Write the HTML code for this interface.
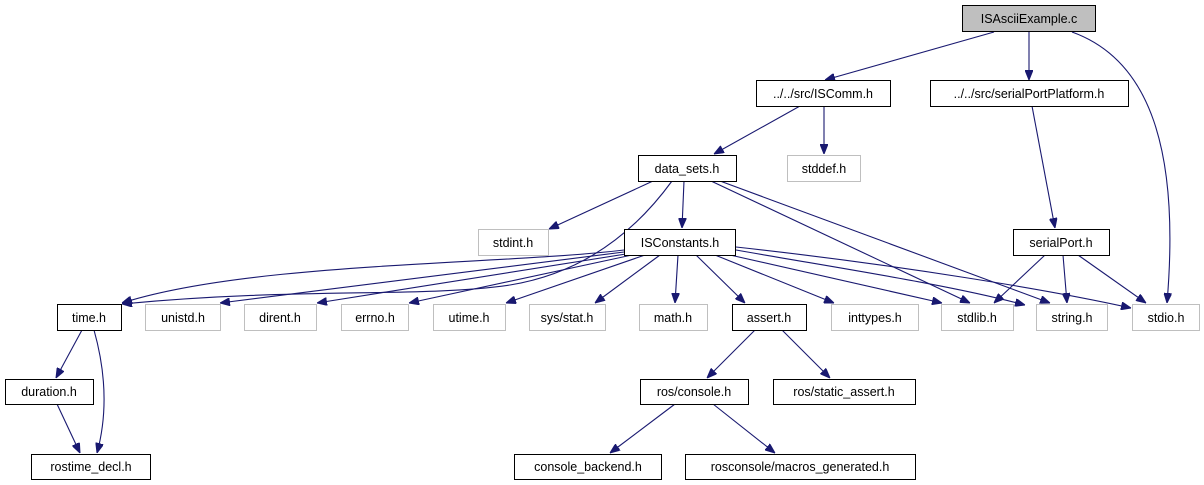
<!DOCTYPE html>
<html><head><meta charset="utf-8"><style>
html,body{margin:0;padding:0;background:#fff;}
svg{display:block;}
text{font-family:"Liberation Sans",sans-serif;font-size:12.5px;fill:#000;}
</style></head><body>
<svg width="1204" height="485" viewBox="0 0 1204 485" xmlns="http://www.w3.org/2000/svg">
<defs>
<marker id="a" markerWidth="10" markerHeight="8" refX="10" refY="4" orient="auto" markerUnits="userSpaceOnUse">
<path d="M0,0 L10,4 L0,8 Z" fill="#191970" stroke="#191970"/>
</marker>
</defs>
<g fill="none" stroke="#191970" stroke-width="1.1" marker-end="url(#a)">
<path d="M994,32 L825,80"/>
<path d="M1029,32 L1029,80"/>
<path d="M1072,32 C1150,60 1180,150 1167,303"/>
<path d="M800,106 L714,154"/>
<path d="M824,106 L824,154"/>
<path d="M1032,106 L1055,228"/>
<path d="M653,181 L549,229"/>
<path d="M672,181 C640,225 590,272 510,285 C420,298 300,287 122,304"/>
<path d="M684,181 L682,228"/>
<path d="M711,181 L970,303"/>
<path d="M720,181 L1050,303"/>
<path d="M624,250 C500,265 250,262 122,303"/>
<path d="M624,252 L220,303"/>
<path d="M626,254 L317,303"/>
<path d="M632,255 L409,303"/>
<path d="M645,255 L506,303"/>
<path d="M660,255 L595,303"/>
<path d="M678,255 L675,303"/>
<path d="M696,255 L745,303"/>
<path d="M715,255 L834,303"/>
<path d="M730,255 L942,303"/>
<path d="M736,250 C850,270 950,285 1025,305"/>
<path d="M736,247 C900,265 1050,290 1131,308"/>
<path d="M1045,255 L994,303"/>
<path d="M1063,255 L1067,303"/>
<path d="M1078,255 L1146,303"/>
<path d="M82,330 L56,378"/>
<path d="M94,330 C108,380 106,420 97,453"/>
<path d="M57,404 L80,453"/>
<path d="M755,330 L707,378"/>
<path d="M782,330 L830,378"/>
<path d="M675,404 L610,453"/>
<path d="M713,404 L775,453"/>
</g>
<g stroke-width="1">
<rect x="962.5" y="5.5" width="133" height="26" fill="#bfbfbf" stroke="#000"/>
<rect x="756.5" y="80.5" width="134" height="26" fill="#fff" stroke="#000"/>
<rect x="930.5" y="80.5" width="198" height="26" fill="#fff" stroke="#000"/>
<rect x="638.5" y="155.5" width="98" height="26" fill="#fff" stroke="#000"/>
<rect x="787.5" y="155.5" width="73" height="26" fill="#fff" stroke="#bfbfbf"/>
<rect x="478.5" y="229.5" width="70" height="26" fill="#fff" stroke="#bfbfbf"/>
<rect x="624.5" y="229.5" width="111" height="26" fill="#fff" stroke="#000"/>
<rect x="1013.5" y="229.5" width="96" height="26" fill="#fff" stroke="#000"/>
<rect x="57.5" y="304.5" width="64" height="26" fill="#fff" stroke="#000"/>
<rect x="145.5" y="304.5" width="75" height="26" fill="#fff" stroke="#bfbfbf"/>
<rect x="244.5" y="304.5" width="72" height="26" fill="#fff" stroke="#bfbfbf"/>
<rect x="341.5" y="304.5" width="67" height="26" fill="#fff" stroke="#bfbfbf"/>
<rect x="433.5" y="304.5" width="72" height="26" fill="#fff" stroke="#bfbfbf"/>
<rect x="529.5" y="304.5" width="76" height="26" fill="#fff" stroke="#bfbfbf"/>
<rect x="639.5" y="304.5" width="68" height="26" fill="#fff" stroke="#bfbfbf"/>
<rect x="732.5" y="304.5" width="74" height="26" fill="#fff" stroke="#000"/>
<rect x="831.5" y="304.5" width="87" height="26" fill="#fff" stroke="#bfbfbf"/>
<rect x="941.5" y="304.5" width="72" height="26" fill="#fff" stroke="#bfbfbf"/>
<rect x="1036.5" y="304.5" width="71" height="26" fill="#fff" stroke="#bfbfbf"/>
<rect x="1132.5" y="304.5" width="67" height="26" fill="#fff" stroke="#bfbfbf"/>
<rect x="5.5" y="379.5" width="88" height="25" fill="#fff" stroke="#000"/>
<rect x="640.5" y="379.5" width="108" height="25" fill="#fff" stroke="#000"/>
<rect x="773.5" y="379.5" width="142" height="25" fill="#fff" stroke="#000"/>
<rect x="31.5" y="454.5" width="119" height="25" fill="#fff" stroke="#000"/>
<rect x="514.5" y="454.5" width="147" height="25" fill="#fff" stroke="#000"/>
<rect x="685.5" y="454.5" width="230" height="25" fill="#fff" stroke="#000"/>
</g>
<g text-anchor="middle">
<text x="1029" y="23">ISAsciiExample.c</text>
<text x="823" y="98">../../src/ISComm.h</text>
<text x="1029" y="98">../../src/serialPortPlatform.h</text>
<text x="687" y="173">data_sets.h</text>
<text x="824" y="173">stddef.h</text>
<text x="513" y="247">stdint.h</text>
<text x="680" y="247">ISConstants.h</text>
<text x="1061" y="247">serialPort.h</text>
<text x="89" y="322">time.h</text>
<text x="183" y="322">unistd.h</text>
<text x="280" y="322">dirent.h</text>
<text x="375" y="322">errno.h</text>
<text x="469" y="322">utime.h</text>
<text x="567" y="322">sys/stat.h</text>
<text x="673" y="322">math.h</text>
<text x="769" y="322">assert.h</text>
<text x="875" y="322">inttypes.h</text>
<text x="977" y="322">stdlib.h</text>
<text x="1072" y="322">string.h</text>
<text x="1166" y="322">stdio.h</text>
<text x="49" y="396">duration.h</text>
<text x="694" y="396">ros/console.h</text>
<text x="844" y="396">ros/static_assert.h</text>
<text x="91" y="471">rostime_decl.h</text>
<text x="588" y="471">console_backend.h</text>
<text x="800" y="471">rosconsole/macros_generated.h</text>
</g>
</svg>
</body></html>
